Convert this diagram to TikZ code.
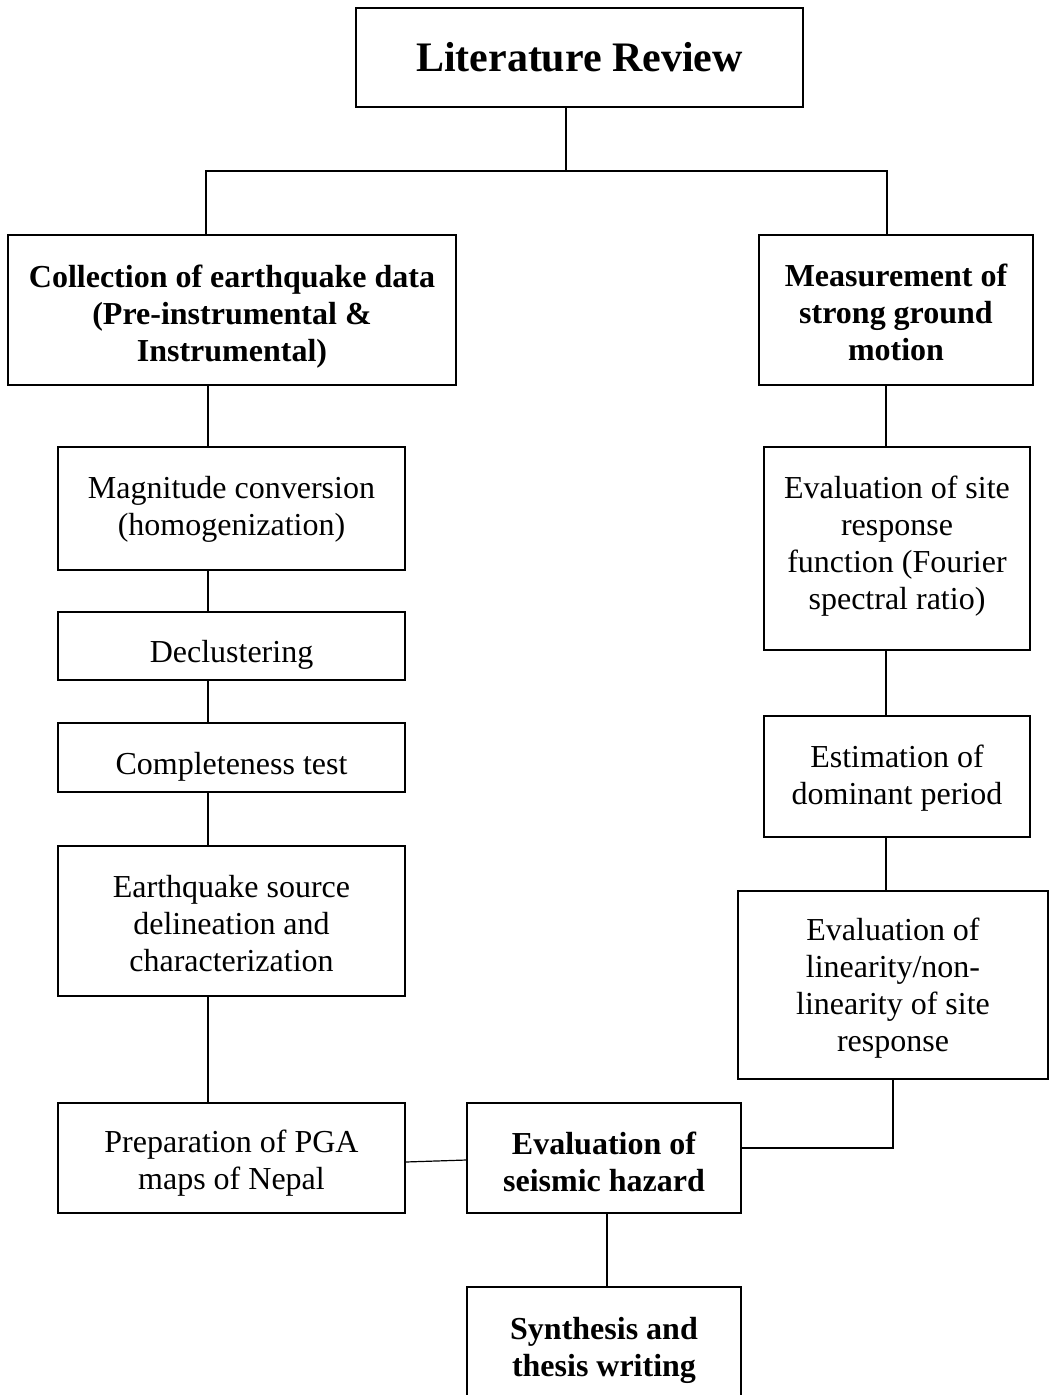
\documentclass[tikz,border=0pt]{standalone}
\usepackage{fontspec}
\setmainfont{Liberation Serif}
\newcommand\su[1]{\rule{0pt}{#1pt}}
\newcommand\sd[1]{\rule[-#1pt]{0pt}{#1pt}}
\begin{document}
\begin{tikzpicture}[x=1pt,y=-1pt,
  box/.style={draw, line width=1.2pt, rectangle, align=center, inner sep=0pt,
    font=\fontsize{32}{37}\selectfont},
  bbox/.style={box, font=\fontsize{32}{37}\selectfont\bfseries},
  conn/.style={line width=1.2pt}]
\useasboundingbox (0,0) rectangle (1049,1395);
% nodes
\node[box, font=\fontsize{42}{48}\selectfont\bfseries, minimum width=447pt, minimum height=99pt] (lit) at (579.5,57.5) {Literature Review};
\node[bbox, minimum width=448pt, minimum height=150pt] (coll) at (232,310) {\su{38.7}Collection of earthquake data\\(Pre-instrumental \&\\Instrumental)\sd{10}};
\node[bbox, minimum width=274pt, minimum height=150pt] (meas) at (896,310) {\su{37.5}Measurement of\\strong ground\\motion\sd{10}};
\node[box, minimum width=347pt, minimum height=123pt] (mag) at (231.5,508.5) {\su{27}Magnitude conversion\\(homogenization)\sd{10}};
\node[box, minimum width=347pt, minimum height=68pt] (decl) at (231.5,646) {\su{42.9}Declustering\sd{10}};
\node[box, minimum width=347pt, minimum height=69pt] (comp) at (231.5,757.5) {\su{44.9}Completeness test\sd{10}};
\node[box, minimum width=347pt, minimum height=150pt] (src) at (231.5,921) {\su{37.9}Earthquake source\\delineation and\\characterization\sd{10}};
\node[box, minimum width=347pt, minimum height=110pt] (pga) at (231.5,1158) {\su{36.9}Preparation of PGA\\maps of Nepal\sd{10}};
\node[bbox, minimum width=274pt, minimum height=110pt] (haz) at (604,1158) {\su{40}Evaluation of\\seismic hazard\sd{10}};
\node[bbox, minimum width=274pt, minimum height=116pt] (syn) at (604,1345) {\su{35}Synthesis and\\thesis writing\sd{10}};
\node[box, minimum width=266pt, minimum height=203pt] (site) at (897,548.5) {Evaluation of site\\response\\function (Fourier\\spectral ratio)\sd{11}};
\node[box, minimum width=266pt, minimum height=121pt] (dom) at (897,776.5) {\su{28.9}Estimation of\\dominant period\sd{10}};
\node[box, minimum width=310pt, minimum height=188pt] (lin) at (893,985) {\su{32.9}Evaluation of\\linearity/non-\\linearity of site\\response\sd{10}};
% junction coordinates
\coordinate (j) at (566,171);
\coordinate (jl) at (206,171);
\coordinate (jr) at (887,171);
\coordinate (lc) at (208,0);
\coordinate (rc) at (886,0);
\coordinate (lr) at (893,1148);
\coordinate (hc) at (607,0);
% connectors
\draw[conn] (lit.south -| j) -- (j);
\draw[conn] (coll.north -| jl) -- (jl) -- (jr) -- (meas.north -| jr);
\draw[conn] (coll.south -| lc) -- (mag.north -| lc);
\draw[conn] (mag.south -| lc) -- (decl.north -| lc);
\draw[conn] (decl.south -| lc) -- (comp.north -| lc);
\draw[conn] (comp.south -| lc) -- (src.north -| lc);
\draw[conn] (src.south -| lc) -- (pga.north -| lc);
\draw[conn] (meas.south -| rc) -- (site.north -| rc);
\draw[conn] (site.south -| rc) -- (dom.north -| rc);
\draw[conn] (dom.south -| rc) -- (lin.north -| rc);
\draw[conn] (lin.south -| lr) -- (lr) -- (haz.east |- lr);
\draw[conn] ([yshift=-4pt]pga.east) -- ([yshift=-2pt]haz.west);
\draw[conn] (haz.south -| hc) -- (syn.north -| hc);
\end{tikzpicture}
\end{document}
